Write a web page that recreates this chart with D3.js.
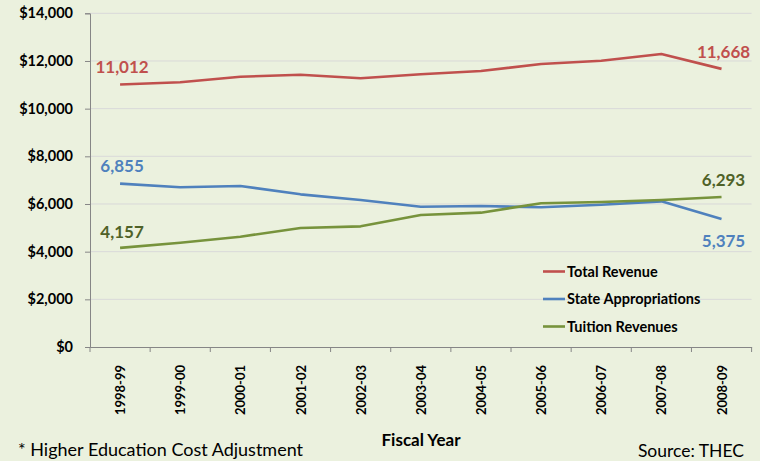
<!DOCTYPE html>
<html><head><meta charset="utf-8">
<script src="https://cdn.jsdelivr.net/npm/d3@7"></script>
<style>
html,body{margin:0;padding:0;background:#EBF1DE;}
svg{display:block;font-family:Lato,"Open Sans",sans-serif;}
</style></head>
<body>
<svg id="c" width="760" height="461"></svg>
<script>
const years = ["1998-99","1999-00","2000-01","2001-02","2002-03","2003-04","2004-05","2005-06","2006-07","2007-08","2008-09"];
const totalRevenue = [11012,11105,11340,11425,11273,11440,11579,11873,12010,12292,11668];
const stateAppropriations = [6855,6700,6755,6405,6167,5886,5915,5860,5970,6110,5375];
const tuitionRevenues = [4157,4376,4628,4992,5062,5538,5636,6030,6083,6167,6293];
const yTicks = [0,2000,4000,6000,8000,10000,12000,14000];
const seriesNames = ["Total Revenue","State Appropriations","Tuition Revenues"];

const colors = ["#C0504D","#4F81BD","#77933C"];
const labelColors = ["#C0504D","#4F81BD","#4F6228"];
const series = [totalRevenue, stateAppropriations, tuitionRevenues];

const svg = d3.select("#c");
svg.append("rect").attr("width",760).attr("height",461).attr("fill","#EBF1DE");

const x = d3.scaleBand().domain(years).range([90,751.6]);
const y = d3.scaleLinear().domain([0,14000]).range([347,13.3]);

// gridlines
svg.append("g").selectAll("line").data(yTicks.filter(d=>d>0)).join("line")
  .attr("x1",90).attr("x2",751.6).attr("y1",d=>y(d)).attr("y2",d=>y(d))
  .attr("stroke","#D9D9D9").attr("stroke-width",1);

// y axis
const ya = svg.append("g").attr("transform","translate(90,0)")
  .call(d3.axisLeft(y).tickValues(yTicks).tickSize(5).tickPadding(12).tickFormat(d=>"$"+d3.format(",")(d)));
ya.select(".domain").attr("stroke","#868686");
ya.selectAll(".tick line").attr("stroke","#868686");
ya.selectAll("text").attr("font-size",14.5).attr("font-weight","bold").attr("fill","#000").attr("font-family","Lato,sans-serif");

// x axis
const xa = svg.append("g").attr("transform","translate(0,347)")
  .call(d3.axisBottom(x).tickSize(0).tickFormat(""));
xa.select(".domain").attr("stroke","#868686");
const tickPos = years.map((d,i)=>x(d)).concat([x.range()[1]]);
svg.append("g").selectAll("line").data(tickPos).join("line")
  .attr("x1",d=>d).attr("x2",d=>d).attr("y1",347).attr("y2",352).attr("stroke","#868686");
svg.append("g").selectAll("text").data(years).join("text")
  .attr("transform",d=>`translate(${x(d)+x.bandwidth()/2+5},365) rotate(-90)`)
  .attr("text-anchor","end").attr("font-size",13).attr("font-weight","bold").text(d=>d);

// lines
const line = d3.line().x((d,i)=>x(years[i])+x.bandwidth()/2).y(d=>y(d));
series.forEach((s,i)=>{
  svg.append("path").datum(s).attr("d",line).attr("fill","none")
    .attr("stroke",colors[i]).attr("stroke-width",2.6).attr("stroke-linejoin","round");
});

// data labels
const startLabelY = [67,166,232];
const endLabelY = [52,241,180];
series.forEach((s,i)=>{
  svg.append("text").attr("x",x(years[0])+x.bandwidth()/2+2).attr("y",startLabelY[i]).attr("dy","0.35em")
    .attr("text-anchor","middle").attr("font-size",17).attr("font-weight","bold").attr("fill",labelColors[i])
    .text(d3.format(",")(s[0]));
  svg.append("text").attr("x",x(years[10])+x.bandwidth()/2+2).attr("y",endLabelY[i]).attr("dy","0.35em")
    .attr("text-anchor","middle").attr("font-size",17).attr("font-weight","bold").attr("fill",labelColors[i])
    .text(d3.format(",")(s[s.length-1]));
});

// legend
const legY = [271.5,299,326.5];
seriesNames.forEach((n,i)=>{
  svg.append("line").attr("x1",543).attr("x2",565).attr("y1",legY[i]).attr("y2",legY[i])
    .attr("stroke",colors[i]).attr("stroke-width",2.6);
  svg.append("text").attr("x",567).attr("y",legY[i]).attr("dy","0.35em")
    .attr("font-size",14.5).attr("font-weight","bold").text(n);
});

// titles
svg.append("text").attr("x",421).attr("y",440).attr("dy","0.35em").attr("text-anchor","middle")
  .attr("font-size",17).attr("font-weight","bold").text("Fiscal Year");
svg.append("text").attr("x",18).attr("y",456).attr("font-size",18).text("* Higher Education Cost Adjustment");
svg.append("text").attr("x",744).attr("y",457).attr("text-anchor","end").attr("font-size",17.5).text("Source: THEC");
</script>
</body></html>
